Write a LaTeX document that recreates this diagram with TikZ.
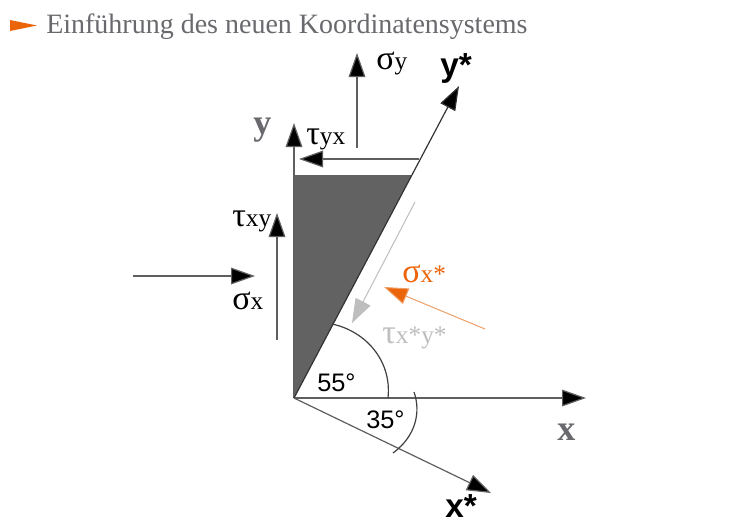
\documentclass[tikz,border=0pt]{standalone}
\usepackage{fontspec}
\setmainfont{Liberation Serif}
\newfontfamily\lsans{Liberation Sans}
\usetikzlibrary{arrows.meta}
\definecolor{orng}{RGB}{236,100,10}
\definecolor{orngl}{RGB}{238,160,105}
\definecolor{tgray}{RGB}{105,105,110}
\definecolor{fillg}{RGB}{98,98,98}
\definecolor{lgray}{RGB}{190,190,190}
\definecolor{lineg}{RGB}{95,95,95}
\tikzset{
  x=0.75pt,y=-0.75pt,
  arr/.style={draw=lineg,line width=0.9pt,-{Triangle[length=18pt,width=12.5pt,fill=black]}},
  lab/.style={inner sep=0pt,anchor=base west,text=black},
  axs/.style={inner sep=0pt,anchor=base west,font=\lsans\bfseries\fontsize{25}{25}\selectfont},
  axg/.style={inner sep=0pt,anchor=base west,text=tgray,font=\bfseries\fontsize{27}{27}\selectfont},
  ang/.style={inner sep=0pt,anchor=base west,font=\lsans\fontsize{19}{19}\selectfont},
  arcl/.style={draw=black!75,line width=0.9pt}
}
\newcommand{\gs}[2]{{\fontsize{25.5}{25.5}\selectfont #1}{\fontsize{19}{19}\selectfont #2}}
\begin{document}
\begin{tikzpicture}
\useasboundingbox (0,0) rectangle (750,526);
\fill[white] (0,0) rectangle (750,526);
% title
\fill[orng] (10,20) -- (37,25.5) -- (10,31) -- cycle;
\node[inner sep=0pt,anchor=base west,text=tgray,font=\fontsize{21}{22}\selectfont] (title) at (46,33) {Einführung des neuen Koordinatensystems};
% coordinates
\coordinate (O) at (294,398);
\coordinate (xt) at (586,398);
\coordinate (yt) at (294,123);
\coordinate (xst) at (491,493);
\coordinate (yst) at (459,86);
\coordinate (sya) at (357,148);
\coordinate (syb) at (357,53);
\coordinate (tyxa) at (419,159);
\coordinate (tyxb) at (299,159);
\coordinate (txya) at (277,340);
\coordinate (txyb) at (277,213);
\coordinate (sxa) at (133,276);
\coordinate (sxb) at (255,276);
\coordinate (tsa) at (415,202);
\coordinate (tsb) at (352,323);
\coordinate (ssa) at (485,329);
\coordinate (ssb) at (384,287);
% wedge
\fill[fillg] (294,175) -- (412,175) -- (O) -- cycle;
% arrows
\draw[arr] (O) -- (yt);
\draw[arr] (O) -- (xt);
\draw[arr] (O) -- (xst);
\draw[arr,draw=black!80] (O) -- (yst);
\draw[arr] (sya) -- (syb);
\draw[arr] (tyxa) -- (tyxb);
\draw[arr] (txya) -- (txyb);
\draw[arr] (sxa) -- (sxb);
\draw[draw=lgray,line width=0.75pt,-{Triangle[length=18pt,width=12.5pt,fill=lgray]}] (tsa) -- (tsb);
\draw[draw=orngl,line width=0.75pt,-{Triangle[length=18pt,width=12.5pt,fill=orng]}] (ssa) -- (ssb);
% angle arcs
\draw[arcl] (332,324) .. controls (365,331) and (392,360) .. (388,398);
\draw[arcl] (414,392) .. controls (421,412) and (416,436) .. (393,453);
% labels
\node[lab] (lsy) at (376,69) {\gs{σ}{y}};
\node[lab] (ltyx) at (306,144) {\gs{τ}{yx}};
\node[lab] (ltxy) at (232,226) {\gs{τ}{xy}};
\node[lab] (lsx) at (232,309) {\gs{σ}{x}};
\node[lab,text=orng] (lssx) at (402,282) {\gs{σ}{x*}};
\node[lab,text=lgray] (ltss) at (382,343) {\gs{τ}{x*y*}};
\node[axs] (lys) at (440,76) {y*};
\node[axs] (lxs) at (445,517) {x*};
\node[axg] (ly) at (253,134) {y};
\node[axg] (lx) at (557,440) {x};
\node[ang] (a55) at (317,391) {55°};
\node[ang] (a35) at (366,428) {35°};
\end{tikzpicture}
\end{document}
